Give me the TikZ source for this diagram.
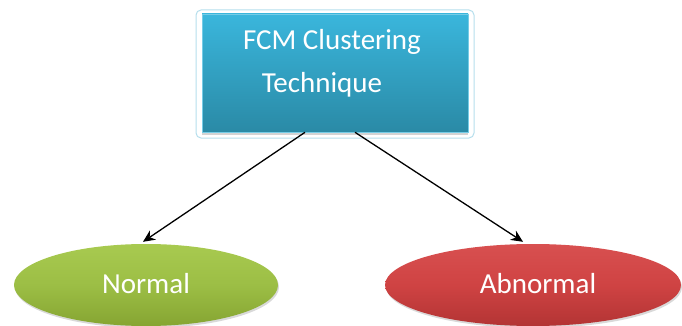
\documentclass[tikz,border=0pt]{standalone}
\usepackage{fontspec}
\setmainfont{Carlito}
\usetikzlibrary{calc,arrows.meta,shapes.geometric,shadows}
\definecolor{boxtop}{HTML}{3AB6DC}
\definecolor{boxbot}{HTML}{2A8AA6}
\definecolor{boxrim}{HTML}{B5DEEC}
\definecolor{grtop}{HTML}{A8CA50}
\definecolor{grmid}{HTML}{9CBE45}
\definecolor{grbot}{HTML}{86A532}
\definecolor{rdtop}{HTML}{D85050}
\definecolor{rdmid}{HTML}{CF4343}
\definecolor{rdbot}{HTML}{B33434}
\tikzset{
  procbox/.style={rectangle, minimum width=266pt, minimum height=118pt,
    top color=boxtop, bottom color=boxbot, draw=boxtop!70!white, line width=0.6pt,
    drop shadow={shadow xshift=0pt, shadow yshift=-3pt, opacity=0.35, fill=gray}},
  classnode/.style={ellipse, minimum height=82pt, inner sep=0pt,
    drop shadow={shadow xshift=1pt, shadow yshift=-2pt, opacity=0.3, fill=gray}},
  label/.style={text=white, font=\fontsize{29}{29}\selectfont, inner sep=0pt, anchor=base},
  link/.style={-{Stealth[length=12pt,width=11pt]}, line width=1.3pt, black}
}
\begin{document}
\begin{tikzpicture}[x=1pt,y=-1pt]
\useasboundingbox (0,0) rectangle (682,326);
% outer rim of the technique box
\draw[boxrim, line width=1pt, rounded corners=5pt] (196,10) rectangle (474,138);
\node[procbox] (box) at (335,73) {};
\node[label] (t1) at (332,50) {FCM Clustering};
\node[label] (t2) at (322,93) {Technique};
% outcome ellipses
\node[classnode, minimum width=264pt, top color=grtop, bottom color=grbot, middle color=grmid] (normal) at (146,285) {};
\node[label] at (146,293) {Normal};
\node[classnode, minimum width=296pt, top color=rdtop, bottom color=rdbot, middle color=rdmid] (abnormal) at (533,285) {};
\node[label] at (538,293) {Abnormal};
% connectors
\coordinate (s1) at ($(box.south)+(-30,0)$);
\coordinate (s2) at ($(box.south)+(20,0)$);
\draw[link] (s1) -- ($(normal.north)+(-3,-2)$);
\draw[link] (s2) -- ($(abnormal.north)+(-10,-2)$);
\end{tikzpicture}
\end{document}
